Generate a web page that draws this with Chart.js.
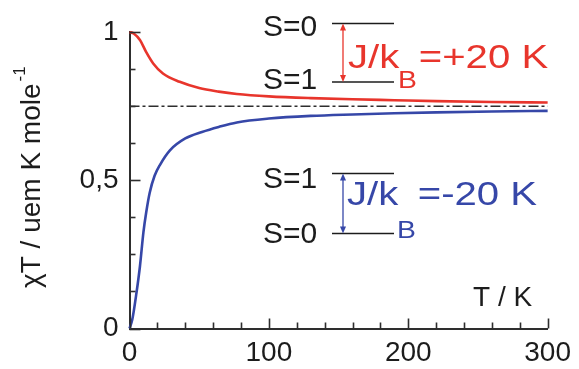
<!DOCTYPE html>
<html>
<head>
<meta charset="utf-8">
<script src="https://cdn.jsdelivr.net/npm/chart.js@4/dist/chart.umd.min.js"></script>
<style>
  html, body { margin: 0; padding: 0; background: #fff; }
  #wrap { width: 579px; height: 369px; }
</style>
</head>
<body>
<div id="wrap"><canvas id="c" width="579" height="369"></canvas></div>
<script>
// χT(T) for a coupled S=1/2 dimer, ferromagnetic case (J/kB = +20 K)
const tempFerro  = [0, 3, 7.5, 12, 17, 24, 36, 50, 64, 77, 100, 130, 160, 190, 220, 260, 300];
const chiTFerro  = [1.000, 0.995, 0.973, 0.932, 0.894, 0.860, 0.832, 0.811, 0.799, 0.791, 0.783, 0.777, 0.773, 0.770, 0.767, 0.764, 0.762];

// antiferromagnetic case (J/kB = -20 K)
const tempAnti   = [0, 2, 5, 7.5, 10, 12, 14.5, 18, 22, 29, 40, 52, 64, 77, 100, 130, 160, 190, 220, 260, 300];
const chiTAnti   = [0, 0.030, 0.120, 0.210, 0.325, 0.392, 0.458, 0.515, 0.553, 0.601, 0.641, 0.663, 0.680, 0.695, 0.708, 0.717, 0.722, 0.726, 0.729, 0.732, 0.734];

// high-temperature limit (two uncoupled S=1/2)
const highTLimit = 0.75;
const limitSpan  = [0, 300];

// axis ticks
const xMajorTicks = [0, 100, 200, 300];
const xMinorStep  = 20;
const yTickLabels = { 0: '0', 0.5: '0,5', 1: '1' };
const yMinorStep  = 0.125;

const RED  = '#e8352c';
const BLUE = '#3647a8';
const INK  = '#1c1c1c';
const AXIS = '#2e2e2e';

const toPoints = (xs, ys) => xs.map((x, i) => ({ x, y: ys[i] }));

function arrowHead(ctx, x, y, dir) {
  ctx.beginPath();
  ctx.moveTo(x, y);
  ctx.lineTo(x - 3, y + dir * 7);
  ctx.lineTo(x + 3, y + dir * 7);
  ctx.closePath();
  ctx.fill();
}

function doubleArrow(ctx, x, y1, y2, color) {
  ctx.save();
  ctx.strokeStyle = color; ctx.fillStyle = color; ctx.lineWidth = 1.3;
  ctx.beginPath(); ctx.moveTo(x, y1 + 3); ctx.lineTo(x, y2 - 3); ctx.stroke();
  arrowHead(ctx, x, y1, 1);
  arrowHead(ctx, x, y2, -1);
  ctx.restore();
}

function level(ctx, x1, x2, y) {
  ctx.save();
  ctx.strokeStyle = INK; ctx.lineWidth = 1.6;
  ctx.beginPath(); ctx.moveTo(x1, y); ctx.lineTo(x2, y); ctx.stroke();
  ctx.restore();
}

// "J/kB=±20 K" with a subscript B, slightly widened lettering
function couplingLabel(ctx, x, baseline, subBaseline, sign, color) {
  ctx.save();
  ctx.fillStyle = color;
  ctx.textBaseline = 'alphabetic';
  ctx.translate(x, 0);
  ctx.scale(1.18, 1);
  ctx.font = '34px "Liberation Sans", Arial, sans-serif';
  ctx.fillText('J/k', 0, baseline);
  let w = ctx.measureText('J/k').width;
  ctx.font = '24px "Liberation Sans", Arial, sans-serif';
  ctx.fillText('B', w - 1, subBaseline);
  w += ctx.measureText('B').width + 0.5;
  ctx.font = '34px "Liberation Sans", Arial, sans-serif';
  ctx.fillText('=' + sign + '20 K', w, baseline);
  ctx.restore();
}

const decorations = {
  id: 'decorations',
  afterDraw(chart) {
    const { ctx, chartArea: a, scales: { x, y } } = chart;

    // inward tick marks
    ctx.save();
    ctx.strokeStyle = AXIS; ctx.lineWidth = 1.6;
    for (let t = 0; t <= 300; t += xMinorStep) {
      const px = Math.round(x.getPixelForValue(t)) + 0.5;
      const len = xMajorTicks.includes(t) ? 10 : 6;
      ctx.beginPath(); ctx.moveTo(px, a.bottom); ctx.lineTo(px, a.bottom - len); ctx.stroke();
    }
    for (let v = 0; v <= 1.0001; v += yMinorStep) {
      const py = Math.round(y.getPixelForValue(v)) + 0.5;
      const len = (v in yTickLabels || Math.abs(v - 0.5) < 1e-6) ? 11 : 6;
      ctx.beginPath(); ctx.moveTo(a.left, py); ctx.lineTo(a.left + len, py); ctx.stroke();
    }
    ctx.restore();

    // axis titles
    ctx.save();
    ctx.fillStyle = INK;
    ctx.font = '28px "Liberation Sans", Arial, sans-serif';
    ctx.textBaseline = 'alphabetic';
    ctx.fillText('T / K', 473, 306);
    ctx.translate(40, 288);
    ctx.rotate(-Math.PI / 2);
    ctx.fillText('\u03C7T / uem K mole', 0, 0);
    const w = ctx.measureText('\u03C7T / uem K mole').width;
    ctx.font = '17px "Liberation Sans", Arial, sans-serif';
    ctx.fillText('-1', w + 2, -15);
    ctx.restore();

    // energy level schemes
    ctx.save();
    ctx.fillStyle = INK;
    ctx.font = '30px "Liberation Sans", Arial, sans-serif';
    ctx.textBaseline = 'alphabetic';
    ctx.fillText('S=0', 263, 36);
    ctx.fillText('S=1', 263, 89);
    ctx.fillText('S=1', 263, 188);
    ctx.fillText('S=0', 263, 243);
    ctx.restore();

    level(ctx, 332, 394, 23.5);
    level(ctx, 332, 394, 82);
    level(ctx, 332, 394, 173.5);
    level(ctx, 332, 394, 233.5);

    doubleArrow(ctx, 343, 23.5, 82, RED);
    doubleArrow(ctx, 343, 173.5, 233.5, BLUE);

    couplingLabel(ctx, 348, 68, 88, '+', RED);
    couplingLabel(ctx, 347, 205, 238, '-', BLUE);
  }
};

new Chart(document.getElementById('c'), {
  type: 'line',
  data: {
    datasets: [
      {
        data: toPoints(limitSpan, [highTLimit, highTLimit]),
        borderColor: AXIS, borderWidth: 1.5, borderDash: [10, 3, 3, 3],
        pointRadius: 0, clip: false
      },
      {
        data: toPoints(tempFerro, chiTFerro),
        borderColor: RED, borderWidth: 2.6, cubicInterpolationMode: 'monotone',
        pointRadius: 0, clip: false
      },
      {
        data: toPoints(tempAnti, chiTAnti),
        borderColor: BLUE, borderWidth: 2.6, cubicInterpolationMode: 'monotone',
        pointRadius: 0, clip: false
      }
    ]
  },
  options: {
    responsive: false,
    animation: false,
    devicePixelRatio: 1,
    layout: { padding: { top: 32, right: 26, left: 0, bottom: 0 } },
    plugins: { legend: { display: false }, tooltip: { enabled: false } },
    scales: {
      x: {
        type: 'linear', min: 0, max: 300,
        afterFit(scale) { scale.height = 40.5; },
        afterBuildTicks(scale) { scale.ticks = xMajorTicks.map(v => ({ value: v })); },
        grid: { display: false, drawTicks: false },
        border: { display: true, color: AXIS, width: 2 },
        ticks: {
          padding: 8, color: INK, maxRotation: 0, autoSkip: false,
          font: { family: '"Liberation Sans", Arial, sans-serif', size: 28 }
        }
      },
      y: {
        type: 'linear', min: 0, max: 1,
        afterFit(scale) { scale.width = 129.5; },
        afterBuildTicks(scale) { scale.ticks = Object.keys(yTickLabels).map(v => ({ value: +v })); },
        grid: { display: false, drawTicks: false },
        border: { display: true, color: AXIS, width: 2 },
        ticks: {
          padding: 11, color: INK, autoSkip: false,
          callback: v => yTickLabels[v],
          font: { family: '"Liberation Sans", Arial, sans-serif', size: 28 }
        }
      }
    }
  },
  plugins: [decorations]
});
</script>
</body>
</html>
